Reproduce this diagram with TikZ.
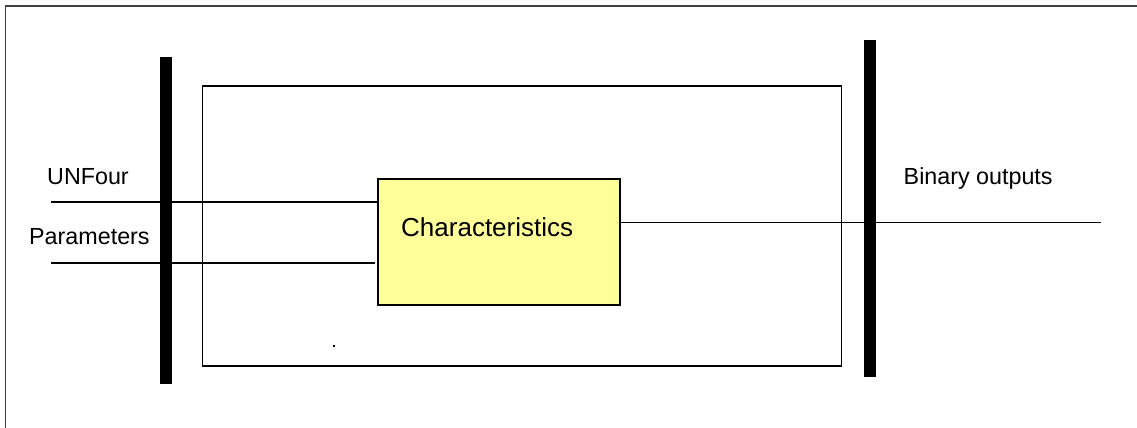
\documentclass[tikz,border=0pt]{standalone}
\usepackage{fontspec}
\setmainfont{Liberation Sans}
\definecolor{boxyellow}{RGB}{255,255,153}
\begin{document}
\begin{tikzpicture}[x=1pt,y=-1pt,
  thin line/.style={line width=1.9pt,draw=black},
  bus bar/.style={fill=black,draw=none},
  label text/.style={font=\fontsize{23.3}{26}\selectfont,inner sep=0pt,anchor=base west},
  charbox/.style={draw=black,line width=2.2pt,fill=boxyellow,inner sep=0pt,minimum width=241.5pt,minimum height=126.5pt,anchor=north west}]
\useasboundingbox (0,0) rectangle (1137,428);
\clip (0,0) rectangle (1137,428);
% outer frame (only top and left visible)
\draw[line width=1.8pt,draw=black!75] (5.5,1000) -- (5.5,6) -- (2000,6);
% inner rectangle
\draw[thin line] (202.5,86) rectangle (841.5,366);
% bus bars
\fill[bus bar] (160,57) rectangle (172,384);
\fill[bus bar] (864,40) rectangle (876,377);
% characteristics box
\node[charbox] (char) at (377,177.5) {};
\node[font=\fontsize{26}{30}\selectfont,inner sep=0pt,anchor=base west] (chartext) at (401,236) {Characteristics};
% input/output lines
\coordinate (in1) at (51,201.7);
\coordinate (in2) at (51,263);
\coordinate (in2e) at (375,263);
\coordinate (out) at (1101,222.5);
\draw[thin line] (in1) -- (char.west |- in1);
\draw[thin line] (in2) -- (in2e);
\draw[thin line] (char.east |- out) -- (out);
% labels
\node[label text] (unfour) at (47,184) {UNFour};
\node[label text] (params) at (29,244) {Parameters};
\node[label text] (binout) at (903.5,184.3) {Binary outputs};
% small dot
\fill[black] (332.5,345) rectangle (334.5,347);
\end{tikzpicture}
\end{document}
